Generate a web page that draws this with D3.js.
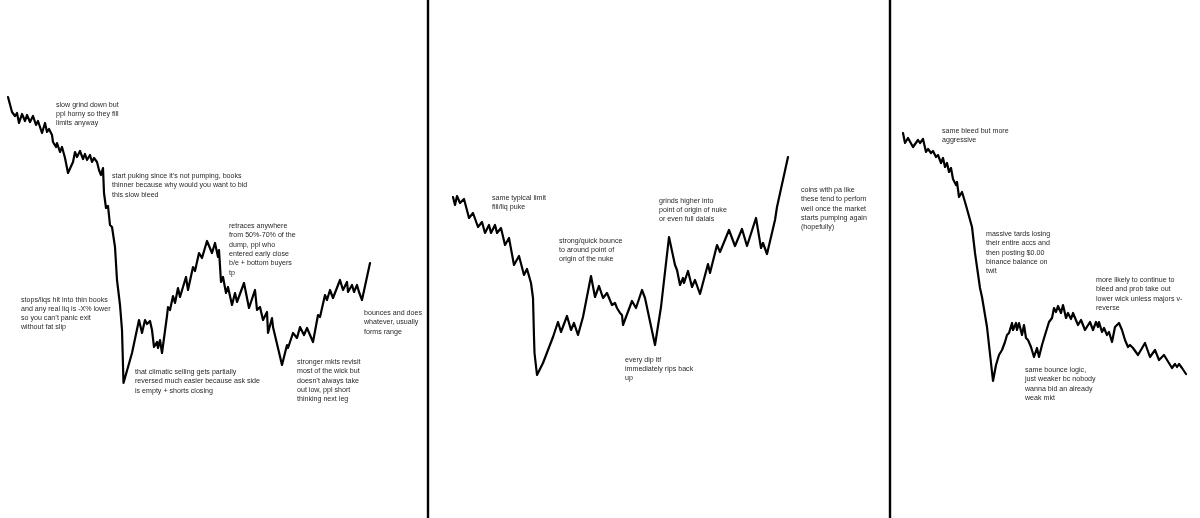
<!DOCTYPE html>
<html>
<head>
<meta charset="utf-8">
<script src="https://cdn.jsdelivr.net/npm/d3@7"></script>
<style>
  html, body { margin: 0; padding: 0; background: #fff; }
  svg { display: block; }
  .notes { opacity: 0.99; will-change: transform; }
  .note { font-family: "Liberation Sans", Arial, sans-serif; font-size: 7.1px; fill: #262626; }
</style>
</head>
<body>
<svg id="chart" width="1200" height="518"></svg>
<script>
// ---------- DATA (time, price) ----------
const panel1Path = [
  [8,421],[12,406],[15,402],[17,405],[19,395],[22,404],[25,397],[27,403],[30,396],[33,402],
  [36,393],[38,397],[42,385],[45,395],[47,386],[49,389],[52,383],[53,376],[56,371],[57,375],
  [60,366],[62,371],[65,360],[68,345],[73,356],[75,366],[77,361],[80,367],[83,359],[85,364],
  [87,358],[90,363],[92,356],[94,360],[97,356],[99,348],[101,343],[103,350],[104,325],[106,310],
  [108,312],[110,293],[112,291],[115,271],[117,238],[120,213],[122,188],[123.5,135],
  [132,165],[139,198],[142,185],[145,198],[147,194],[150,197],[152,188],[154,171],[157,176],
  [158,170],[160,178],[162,165],[167,202],[168,211],[170,208],[173,222],[175,215],[178,230],
  [180,221],[186,241],[188,228],[193,251],[195,247],[199,265],[202,260],[207,277],[212,265],
  [215,275],[218,261],[219,268],[221,236],[223,241],[226,225],[228,231],[232,213],[235,225],
  [237,216],[244,235],[249,210],[255,228],[257,208],[260,211],[263,198],[267,206],[268,185],
  [272,200],[273,191],[282,153],[287,173],[288,170],[293,185],[297,180],[300,191],[304,183],
  [307,190],[313,176],[318,203],[320,201],[325,223],[327,218],[330,228],[333,220],[340,238],
  [343,228],[347,236],[348,226],[352,233],[354,226],[357,233],[359,226],[362,218],[370,255]
];
const panel2Path = [
  [453,321],[455,313],[457,322],[460,315],[464,319],[469,300],[473,305],[478,291],[482,296],
  [485,285],[489,293],[491,285],[495,293],[497,285],[501,290],[505,273],[509,280],[514,253],
  [519,262],[524,243],[527,249],[531,235],[533,220],[534,181],[534.5,165],[537,143],[543,155],
  [553,181],[558,196],[561,186],[567,202],[571,188],[574,195],[578,183],[583,201],[591,242],
  [595,221],[599,232],[603,220],[607,225],[612,213],[615,215],[617,210],[620,205],[622,203],
  [623,193],[632,217],[636,210],[642,228],[645,220],[655,173],[661,211],[669,281],[675,253],
  [677,248],[680,233],[683,240],[684,235],[688,247],[692,231],[695,238],[700,224],[708,254],
  [710,245],[717,273],[720,266],[729,288],[735,272],[742,289],[747,272],[756,300],[761,270],
  [763,275],[767,264],[775,298],[777,311],[788,361]
];
const panel3Path = [
  [903,385],[905,375],[908,380],[913,371],[918,378],[920,375],[923,379],[926,366],[928,369],
  [931,365],[933,367],[936,361],[938,363],[941,355],[943,360],[945,351],[947,355],[949,346],
  [951,350],[953,339],[956,333],[957,336],[959,321],[962,326],[965,316],[967,309],[972,291],
  [975,265],[980,230],[982,221],[987,191],[993,137],[996,153],[999,163],[1002,168],[1005,176],
  [1007,183],[1009,185],[1012,195],[1013,188],[1016,195],[1017,188],[1019,195],[1022,183],
  [1024,193],[1026,180],[1028,178],[1031,171],[1034,161],[1037,170],[1039,161],[1042,173],
  [1045,183],[1049,196],[1052,200],[1054,210],[1056,206],[1058,212],[1061,205],[1063,213],
  [1066,200],[1068,205],[1071,199],[1073,205],[1078,193],[1081,198],[1085,188],[1090,196],
  [1093,188],[1096,196],[1098,191],[1099,196],[1102,186],[1104,190],[1107,183],[1109,186],
  [1112,176],[1115,191],[1117,193],[1119,195],[1122,188],[1125,178],[1128,171],[1130,173],
  [1133,170],[1138,163],[1145,175],[1150,161],[1155,168],[1159,158],[1164,163],[1172,150],
  [1175,154],[1177,151],[1179,154],[1182,150],[1186,144]
];
const panelBreaks = [428, 890];

// annotation anchors (time, price) and text lines
const notes = [
  { t: 56,   p: 411.5, lines: ["slow grind down but", "ppl horny so they fill", "limits anyway"] },
  { t: 112,  p: 340,   lines: ["start puking since it\u2019s not pumping, books", "thinner because why would you want to bid", "this slow bleed"] },
  { t: 229,  p: 290,   lines: ["retraces anywhere", "from 50%-70% of the", "dump, ppl who", "entered early close", "b/e + bottom buyers", "tp"] },
  { t: 21,   p: 216.5, lines: ["stops/liqs hit into thin books", "and any real liq is -X% lower", "so you can\u2019t panic exit", "without fat slip"] },
  { t: 135,  p: 144,   lines: ["that climatic selling gets partially", "reversed much easier because ask side", "is empty + shorts closing"] },
  { t: 297,  p: 154,   lines: ["stronger mkts revisit", "most of the wick but", "doesn\u2019t always take", "out low, ppl short", "thinking next leg"] },
  { t: 364,  p: 203,   lines: ["bounces and does", "whatever, usually", "forms range"] },
  { t: 492,  p: 318,   lines: ["same typical limit", "fill/liq puke"] },
  { t: 559,  p: 275.5, lines: ["strong/quick bounce", "to around point of", "origin of the nuke"] },
  { t: 625,  p: 156.5, lines: ["every dip ltf", "immediately rips back", "up"] },
  { t: 659,  p: 315.5, lines: ["grinds higher into", "point of origin of nuke", "or even full dalais"] },
  { t: 801,  p: 326,   lines: ["coins with pa like", "these tend to perforn", "well once the market", "starts pumping again", "(hopefully)"] },
  { t: 942,  p: 385.5, lines: ["same bleed but more", "aggressive"] },
  { t: 986,  p: 282,   lines: ["massive tards losing", "their entire accs and", "then posting $0.00", "binance balance on", "twit"] },
  { t: 1096, p: 236,   lines: ["more likely to continue to", "bleed and prob take out", "lower wick unless majors v-", "reverse"] },
  { t: 1025, p: 146,   lines: ["same bounce logic,", "just weaker bc nobody", "wanna bid an already", "weak mkt"] }
];

// ---------- RENDER ----------
const W = 1200, H = 518;
const svg = d3.select("#chart");
const x = d3.scaleLinear().domain([0, 1200]).range([0, W]);
const y = d3.scaleLinear().domain([0, 518]).range([H, 0]);

svg.append("rect").attr("width", W).attr("height", H).attr("fill", "#fff");

svg.selectAll("line.break").data(panelBreaks).enter().append("line")
  .attr("class", "break")
  .attr("x1", d => x(d)).attr("x2", d => x(d))
  .attr("y1", 0).attr("y2", H)
  .attr("stroke", "#000").attr("stroke-width", 2.4);

const line = d3.line().x(d => x(d[0])).y(d => y(d[1]));
svg.selectAll("path.price").data([panel1Path, panel2Path, panel3Path]).enter().append("path")
  .attr("class", "price")
  .attr("d", line)
  .attr("fill", "none")
  .attr("stroke", "#000")
  .attr("stroke-width", 2.2)
  .attr("stroke-linejoin", "round")
  .attr("stroke-linecap", "round");

const lh = 9.3;
const g = svg.append("g").attr("class", "notes")
  .selectAll("text.note").data(notes).enter().append("text")
  .attr("class", "note")
  .attr("x", d => x(d.t))
  .attr("y", d => y(d.p));
g.selectAll("tspan").data(d => d.lines.map((s, i) => ({ s, i, t: d.t }))).enter().append("tspan")
  .attr("x", d => x(d.t))
  .attr("dy", d => d.i === 0 ? 0 : lh)
  .text(d => d.s);
</script>
</body>
</html>
